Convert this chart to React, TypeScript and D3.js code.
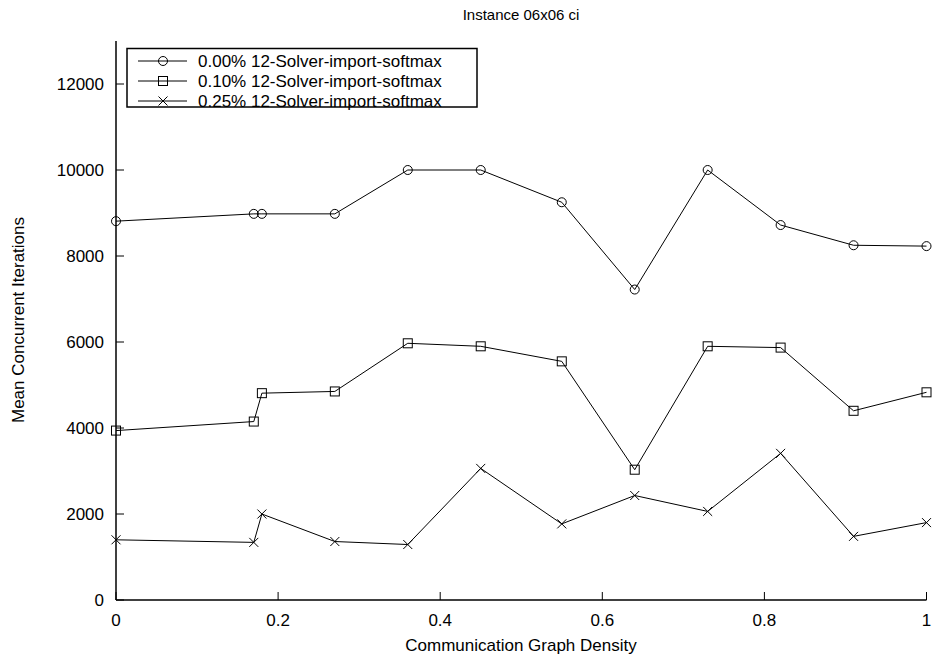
import React from 'react';
import { scaleLinear, line } from 'd3';

// communication graph density (x) values shared by all three series
const densities = [0, 0.17, 0.18, 0.27, 0.36, 0.45, 0.55, 0.64, 0.73, 0.82, 0.91, 1.0];

const noise000 = [8810, 8980, 8980, 8980, 10000, 10000, 9250, 7220, 10000, 8720, 8250, 8230];
const noise010 = [3940, 4150, 4810, 4850, 5970, 5900, 5550, 3030, 5900, 5870, 4400, 4830];
const noise025 = [1400, 1340, 2000, 1360, 1290, 3060, 1770, 2430, 2060, 3410, 1480, 1800];

const seriesNames = [
  '0.00% 12-Solver-import-softmax',
  '0.10% 12-Solver-import-softmax',
  '0.25% 12-Solver-import-softmax',
];
const seriesMarkers = ['circle', 'square', 'cross'];

const xTicks = [0, 0.2, 0.4, 0.6, 0.8, 1];
const yTicks = [0, 2000, 4000, 6000, 8000, 10000, 12000];

const width = 934;
const height = 661;
const margin = { top: 41, right: 7, bottom: 61, left: 116 };
const font = '"Liberation Sans", Arial, Helvetica, sans-serif';

function Marker({ kind, x, y }) {
  if (kind === 'circle') {
    return <circle cx={x} cy={y} r={4.5} fill="none" stroke="#000" strokeWidth={1} />;
  }
  if (kind === 'square') {
    return <rect x={x - 4.5} y={y - 4.5} width={9} height={9} fill="none" stroke="#000" strokeWidth={1} />;
  }
  return (
    <path
      d={`M${x - 4.5},${y - 4.5}L${x + 4.5},${y + 4.5}M${x - 4.5},${y + 4.5}L${x + 4.5},${y - 4.5}`}
      stroke="#000"
      strokeWidth={1}
    />
  );
}

export default function App() {
  const xScale = scaleLinear().domain([0, 1]).range([margin.left, width - margin.right - 0.5]);
  const yScale = scaleLinear().domain([0, 13000]).range([height - margin.bottom, margin.top]);

  const series = [noise000, noise010, noise025];
  const lineGen = line()
    .x((d) => xScale(d[0]))
    .y((d) => yScale(d[1]));

  const x0 = margin.left;
  const y0 = height - margin.bottom;

  return (
    <div style={{ position: 'absolute', left: 0, top: 0 }}>
      <svg width={width} height={height} style={{ display: 'block', background: '#fff' }} fontFamily={font}>
        {/* title */}
        <text x={521} y={20} textAnchor="middle" fontSize={15}>
          Instance 06x06 ci
        </text>

        {/* axes */}
        <line x1={x0} y1={margin.top} x2={x0} y2={y0} stroke="#000" strokeWidth={1.5} />
        <line x1={x0} y1={y0} x2={xScale(1)} y2={y0} stroke="#000" strokeWidth={1.5} />

        {yTicks.map((t) => (
          <g key={t}>
            <line x1={x0} x2={x0 + 8} y1={yScale(t)} y2={yScale(t)} stroke="#000" strokeWidth={1} />
            <text x={104} y={yScale(t)} dy="0.36em" textAnchor="end" fontSize={17}>
              {t}
            </text>
          </g>
        ))}
        {xTicks.map((t) => (
          <g key={t}>
            <line x1={xScale(t)} x2={xScale(t)} y1={y0} y2={y0 - 8} stroke="#000" strokeWidth={1} />
            <text x={xScale(t)} y={626} textAnchor="middle" fontSize={17}>
              {t}
            </text>
          </g>
        ))}

        <text x={521} y={651} textAnchor="middle" fontSize={17}>
          Communication Graph Density
        </text>
        <text transform={`translate(24,320) rotate(-90)`} textAnchor="middle" fontSize={17}>
          Mean Concurrent Iterations
        </text>

        {/* series */}
        {series.map((vals, i) => {
          const pts = densities.map((d, j) => [d, vals[j]]);
          return (
            <g key={i}>
              <path d={lineGen(pts)} fill="none" stroke="#000" strokeWidth={1} />
              {pts.map((p, j) => (
                <Marker key={j} kind={seriesMarkers[i]} x={xScale(p[0])} y={yScale(p[1])} />
              ))}
            </g>
          );
        })}

        {/* legend */}
        <rect x={127} y={48.5} width={350} height={58.5} fill="#fff" stroke="#000" strokeWidth={1.5} />
        {seriesNames.map((name, i) => {
          const ly = 61 + i * 20;
          return (
            <g key={name}>
              <line x1={138} x2={187} y1={ly} y2={ly} stroke="#000" strokeWidth={1} />
              <Marker kind={seriesMarkers[i]} x={163} y={ly} />
              <text x={198} y={ly} dy="0.36em" fontSize={17}>
                {name}
              </text>
            </g>
          );
        })}
      </svg>
    </div>
  );
}
